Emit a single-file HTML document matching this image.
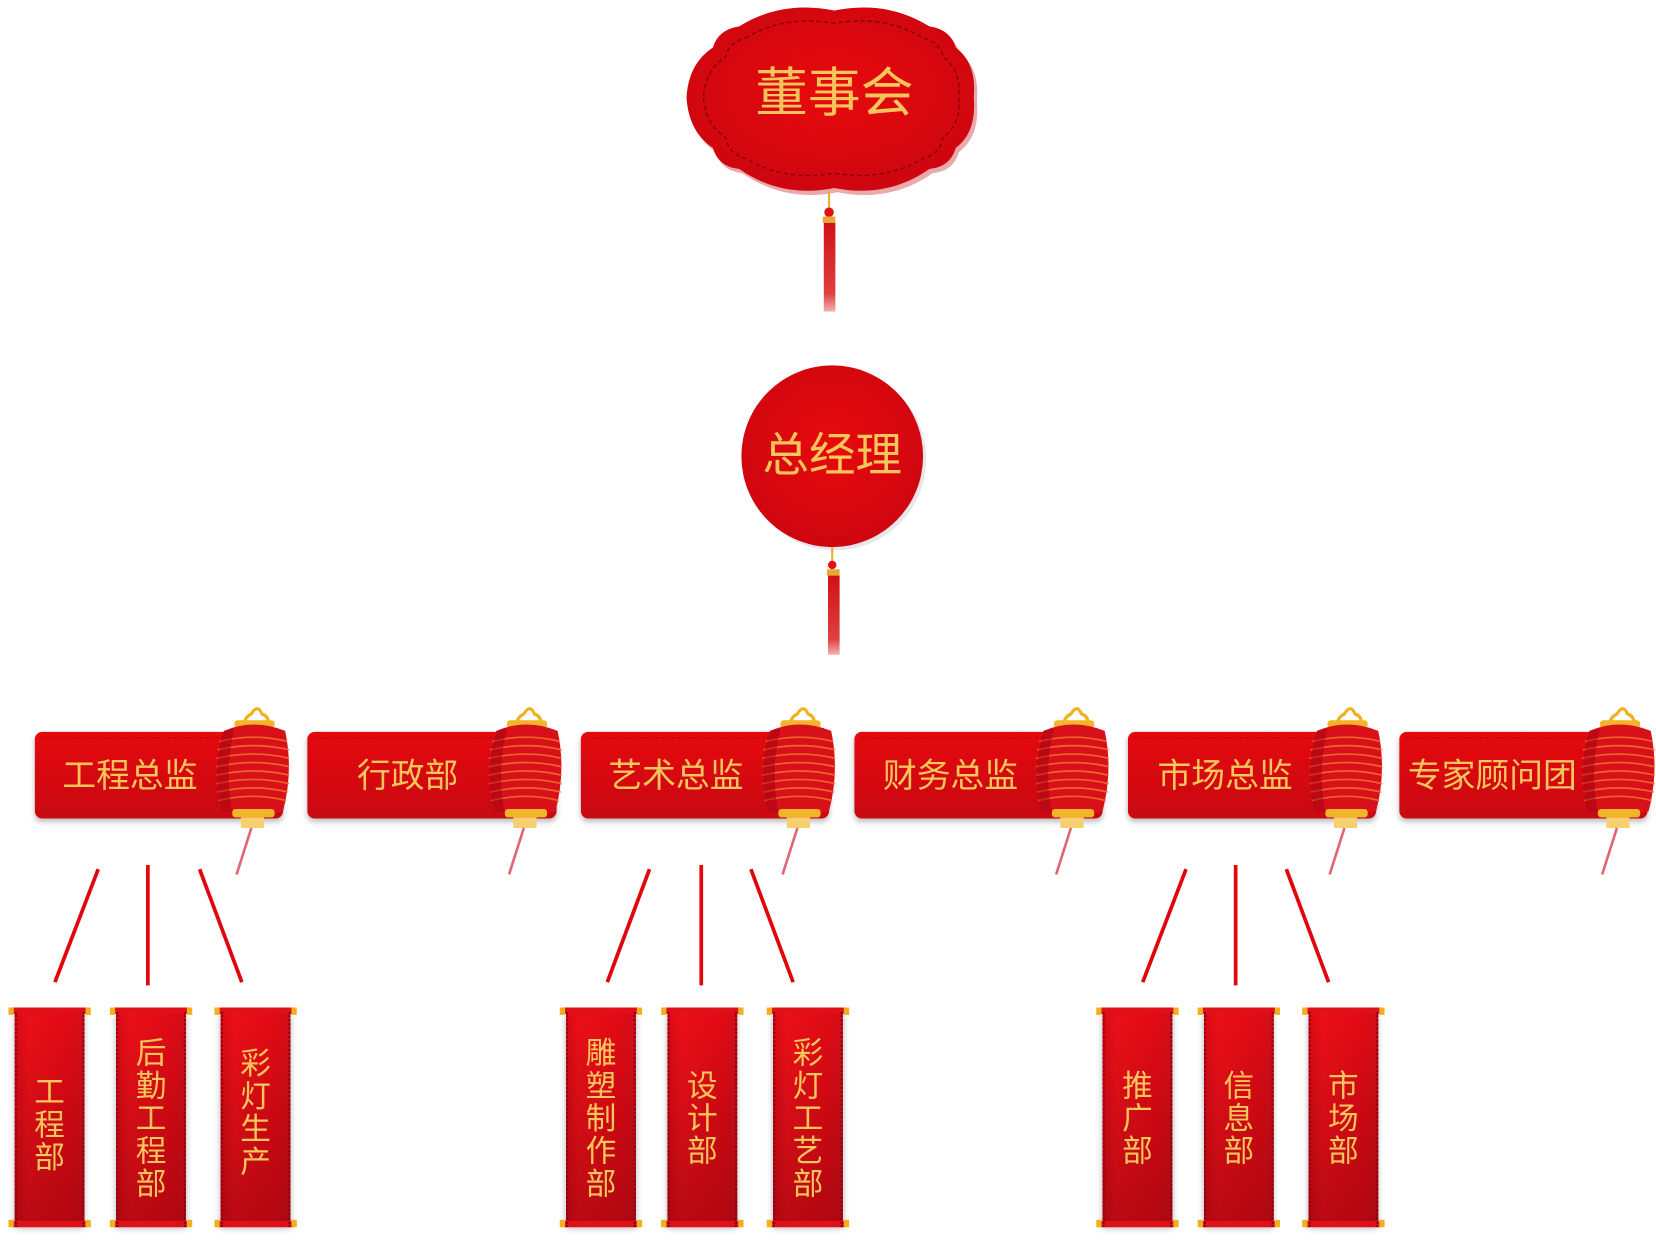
<!DOCTYPE html>
<html><head><meta charset="utf-8">
<style>
html,body{margin:0;padding:0;background:#fff;width:1656px;height:1242px;overflow:hidden}
#w{position:absolute;left:0;top:0;width:1568px;height:1176px;transform:scale(1.05612);transform-origin:0 0;font-family:"Liberation Sans","Noto Sans CJK SC",sans-serif}
.ab{position:absolute}
.ban{position:absolute;top:693px;height:82px;border-radius:7px;background:linear-gradient(#e40a0e,#d40810 60%,#c80a12);box-shadow:0 3px 5px rgba(0,0,0,.25)}
.ban span{position:absolute;top:0;height:82px;line-height:82px;font-size:32px;color:#f6c65c;white-space:nowrap}
.ban:before{content:"";position:absolute;left:6px;right:6px;top:5px;border-top:1px dashed rgba(120,0,0,.4)}
.sc{position:absolute;top:954px;width:78px;height:212px}
.sc .rod{position:absolute;left:2px;right:2px;height:6px;background:#e0101a;border-radius:2px}
.sc .k{position:absolute;width:5px;height:7px;background:#f2b01e}
.sc .b{position:absolute;left:6px;right:6px;top:4px;bottom:6px;background:linear-gradient(90deg,#d80a14,#ec1018 20%,#e00a14 80%,#d0101a),#e00;box-shadow:0 3px 6px rgba(0,0,0,.3)}
.sc .b:after{content:"";position:absolute;left:0;right:0;top:0;bottom:0;background:linear-gradient(rgba(0,0,0,0),rgba(90,0,10,.35))}
.sc .i{position:absolute;left:6px;right:6px;top:4px;bottom:4px;border-left:2px dotted #8a0010;border-right:2px dotted #8a0010;z-index:1}
.sc .t{position:absolute;left:0;right:0;top:0;bottom:0;display:flex;align-items:center;justify-content:center;z-index:2;font-size:29px;line-height:31px;color:#f6c65c;text-align:center}
</style></head><body><div id="w">

<svg class="ab" style="left:0;top:0" width="1568" height="1176">
<defs>
<radialGradient id="rg" cx="50%" cy="45%" r="60%"><stop offset="0" stop-color="#e80a0c"/><stop offset="1" stop-color="#cc0610"/></radialGradient>
<linearGradient id="tas" x1="0" x2="0" y1="0" y2="1"><stop offset="0" stop-color="#d01018"/><stop offset=".8" stop-color="#e04040"/><stop offset="1" stop-color="#f4b0b0"/></linearGradient>
<g id="lan">
<path d="M-2,18 Q-4,10 4,6 Q10,-4 14,6 Q20,8 20,14" fill="none" stroke="#f0b020" stroke-width="3"/>
<rect x="-12" y="12" width="38" height="8" rx="3" fill="#f2b52a"/>
<path d="M-22,22 Q6,10 36,22 Q44,60 34,98 Q6,108 -24,98 Q-34,60 -22,22Z" fill="#d8101a"/>
<g stroke="#f07a30" stroke-width="1.6" fill="none" opacity=".8">
<path d="M-26,32 Q6,24 38,32"/><path d="M-28,40 Q6,32 40,40"/><path d="M-29,48 Q6,40 40,48"/><path d="M-29,56 Q6,48 40,56"/><path d="M-29,64 Q6,56 40,64"/><path d="M-29,72 Q6,64 40,72"/><path d="M-28,80 Q6,72 39,80"/><path d="M-27,88 Q6,80 37,88"/></g>
<path d="M-22,22 Q-34,60 -24,98 L-14,100 Q-22,60 -12,20Z" fill="#a00010" opacity=".5"/>
<rect x="-14" y="96" width="40" height="8" rx="3" fill="#f2b52a"/>
<rect x="-6" y="104" width="22" height="10" fill="#f6d070"/>
<path d="M4,114 L-10,158" stroke="#d84050" stroke-width="2.5" opacity=".8"/>
</g>
</defs>

<path d="M700,25 Q740,0 790,10 Q840,0 880,25 Q900,28 905,45 Q925,60 922,92 Q925,125 905,140 Q900,158 880,160 Q840,188 790,178 Q740,188 700,160 Q680,158 675,140 Q652,125 650,92 Q652,60 675,45 Q680,28 700,25Z" fill="#c40a10" transform="translate(3,4)" opacity=".35"/>
<path d="M700,25 Q740,0 790,10 Q840,0 880,25 Q900,28 905,45 Q925,60 922,92 Q925,125 905,140 Q900,158 880,160 Q840,188 790,178 Q740,188 700,160 Q680,158 675,140 Q652,125 650,92 Q652,60 675,45 Q680,28 700,25Z" fill="url(#rg)"/>
<path d="M706,36 Q742,14 790,22 Q838,14 874,36 Q890,40 893,54 Q910,66 908,92 Q910,118 893,130 Q890,146 874,150 Q838,172 790,164 Q742,172 706,150 Q690,146 687,130 Q668,118 666,92 Q668,66 687,54 Q690,40 706,36Z" fill="none" stroke="#7a0008" stroke-width="1.2" stroke-dasharray="4 3"/>
<line x1="785" y1="180" x2="785" y2="198" stroke="#e8b030" stroke-width="2"/>
<circle cx="785" cy="201" r="4.5" fill="#e01018"/>
<rect x="779" y="205" width="12" height="6" fill="#e8a830"/>
<rect x="780" y="211" width="11" height="84" fill="url(#tas)"/>

<circle cx="791" cy="435" r="86" fill="#bbb" opacity=".35"/>
<circle cx="788" cy="432" r="86" fill="url(#rg)"/>
<line x1="788" y1="518" x2="788" y2="533" stroke="#e8b030" stroke-width="2"/>
<circle cx="788" cy="535" r="4" fill="#e01018"/>
<rect x="783" y="539" width="12" height="6" fill="#e8a830"/>
<rect x="784" y="545" width="11" height="75" fill="url(#tas)"/>

<g stroke="#e0060c" stroke-width="3.5">
<line x1="93" y1="823" x2="52" y2="930"/><line x1="140" y1="819" x2="140" y2="933"/><line x1="189" y1="823" x2="229" y2="930"/>
<line x1="615" y1="823" x2="575" y2="930"/><line x1="664" y1="819" x2="664" y2="933"/><line x1="711" y1="823" x2="751" y2="930"/>
<line x1="1123" y1="823" x2="1082" y2="930"/><line x1="1170" y1="819" x2="1170" y2="933"/><line x1="1218" y1="823" x2="1258" y2="930"/>
</g>
</svg>

<div class="ab" style="left:650px;top:58px;width:280px;text-align:center;font-size:50px;line-height:60px;color:#f6c65c">董事会</div>
<div class="ab" style="left:702px;top:404px;width:172px;text-align:center;font-size:44px;line-height:56px;color:#f6c65c">总经理</div>

<div class="ban" style="left:33px;width:235px"><span style="left:26px">工程总监</span></div>
<div class="ban" style="left:291px;width:236px"><span style="left:47px">行政部</span></div>
<div class="ban" style="left:550px;width:235px"><span style="left:26px">艺术总监</span></div>
<div class="ban" style="left:809px;width:235px"><span style="left:27px">财务总监</span></div>
<div class="ban" style="left:1068px;width:235px"><span style="left:28px">市场总监</span></div>
<div class="ban" style="left:1325px;width:235px"><span style="left:8px">专家顾问团</span></div>

<svg class="ab" style="left:0;top:0;pointer-events:none" width="1568" height="1176">
<use href="#lan" x="234" y="670"/>
<use href="#lan" x="492" y="670"/>
<use href="#lan" x="751" y="670"/>
<use href="#lan" x="1010" y="670"/>
<use href="#lan" x="1269" y="670"/>
<use href="#lan" x="1527" y="670"/>
</svg>

<div class="sc" style="left:8px"><div class="b"></div><div class="i"></div><div class="rod" style="top:0"></div><div class="rod" style="bottom:4px"></div><div class="k" style="left:0;top:0"></div><div class="k" style="right:0;top:0"></div><div class="k" style="left:0;bottom:4px"></div><div class="k" style="right:0;bottom:4px"></div><div class="t" style="padding-top:12px">工<br>程<br>部</div></div>
<div class="sc" style="left:104px"><div class="b"></div><div class="i"></div><div class="rod" style="top:0"></div><div class="rod" style="bottom:4px"></div><div class="k" style="left:0;top:0"></div><div class="k" style="right:0;top:0"></div><div class="k" style="left:0;bottom:4px"></div><div class="k" style="right:0;bottom:4px"></div><div class="t">后<br>勤<br>工<br>程<br>部</div></div>
<div class="sc" style="left:203px"><div class="b"></div><div class="i"></div><div class="rod" style="top:0"></div><div class="rod" style="bottom:4px"></div><div class="k" style="left:0;top:0"></div><div class="k" style="right:0;top:0"></div><div class="k" style="left:0;bottom:4px"></div><div class="k" style="right:0;bottom:4px"></div><div class="t" style="padding-bottom:10px">彩<br>灯<br>生<br>产</div></div>

<div class="sc" style="left:530px"><div class="b"></div><div class="i"></div><div class="rod" style="top:0"></div><div class="rod" style="bottom:4px"></div><div class="k" style="left:0;top:0"></div><div class="k" style="right:0;top:0"></div><div class="k" style="left:0;bottom:4px"></div><div class="k" style="right:0;bottom:4px"></div><div class="t">雕<br>塑<br>制<br>作<br>部</div></div>
<div class="sc" style="left:626px"><div class="b"></div><div class="i"></div><div class="rod" style="top:0"></div><div class="rod" style="bottom:4px"></div><div class="k" style="left:0;top:0"></div><div class="k" style="right:0;top:0"></div><div class="k" style="left:0;bottom:4px"></div><div class="k" style="right:0;bottom:4px"></div><div class="t">设<br>计<br>部</div></div>
<div class="sc" style="left:726px"><div class="b"></div><div class="i"></div><div class="rod" style="top:0"></div><div class="rod" style="bottom:4px"></div><div class="k" style="left:0;top:0"></div><div class="k" style="right:0;top:0"></div><div class="k" style="left:0;bottom:4px"></div><div class="k" style="right:0;bottom:4px"></div><div class="t">彩<br>灯<br>工<br>艺<br>部</div></div>

<div class="sc" style="left:1038px"><div class="b"></div><div class="i"></div><div class="rod" style="top:0"></div><div class="rod" style="bottom:4px"></div><div class="k" style="left:0;top:0"></div><div class="k" style="right:0;top:0"></div><div class="k" style="left:0;bottom:4px"></div><div class="k" style="right:0;bottom:4px"></div><div class="t">推<br>广<br>部</div></div>
<div class="sc" style="left:1134px"><div class="b"></div><div class="i"></div><div class="rod" style="top:0"></div><div class="rod" style="bottom:4px"></div><div class="k" style="left:0;top:0"></div><div class="k" style="right:0;top:0"></div><div class="k" style="left:0;bottom:4px"></div><div class="k" style="right:0;bottom:4px"></div><div class="t">信<br>息<br>部</div></div>
<div class="sc" style="left:1233px"><div class="b"></div><div class="i"></div><div class="rod" style="top:0"></div><div class="rod" style="bottom:4px"></div><div class="k" style="left:0;top:0"></div><div class="k" style="right:0;top:0"></div><div class="k" style="left:0;bottom:4px"></div><div class="k" style="right:0;bottom:4px"></div><div class="t">市<br>场<br>部</div></div>

</div></body></html>
